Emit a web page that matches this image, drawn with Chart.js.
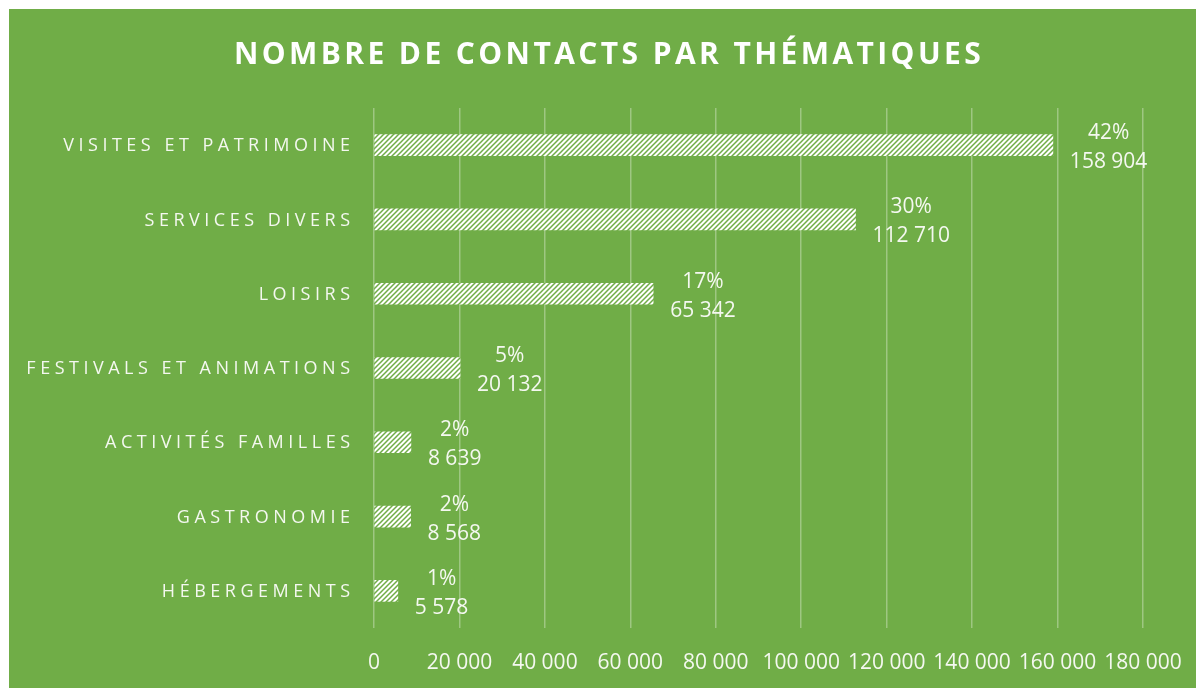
<!DOCTYPE html>
<html>
<head>
<meta charset="utf-8">
<script src="https://cdn.jsdelivr.net/npm/chart.js@4/dist/chart.umd.min.js"></script>
<style>
    body { margin: 0; background: #ffffff; }
    #panel { position: absolute; left: 9px; top: 9px; width: 1187px; height: 679px; background: #70ad47; }
</style>
</head>
<body>
<div id="panel"><canvas id="myChart" width="1187" height="679"></canvas></div>
<script>
// dati del grafico
var titre = 'NOMBRE DE CONTACTS PAR THÉMATIQUES';
var thematiques = ['VISITES ET PATRIMOINE', 'SERVICES DIVERS', 'LOISIRS', 'FESTIVALS ET ANIMATIONS', 'ACTIVITÉS FAMILLES', 'GASTRONOMIE', 'HÉBERGEMENTS'];
var contacts = [158904, 112710, 65342, 20132, 8639, 8568, 5578];
var pourcentages = ['42%', '30%', '17%', '5%', '2%', '2%', '1%'];
var xMin = 0;
var xMax = 180000;
var xStep = 20000;

var vert = '#70ad47';
var texte = '#f4f8f0';

// separatore delle migliaia con lo spazio
function format_nombre(v) {
    return String(v).replace(/\B(?=(\d{3})+(?!\d))/g, ' ');
}

// trama a righe diagonali per le barre
function crea_trama() {
    var c = document.createElement('canvas');
    c.width = 5;
    c.height = 5;
    var p = c.getContext('2d');
    p.fillStyle = '#ffffff';
    p.fillRect(0, 0, 5, 5);
    p.strokeStyle = vert;
    p.lineWidth = 1.5;
    p.beginPath();
    p.moveTo(-2.5, 2.5); p.lineTo(2.5, -2.5);
    p.moveTo(0, 5); p.lineTo(5, 0);
    p.moveTo(2.5, 7.5); p.lineTo(7.5, 2.5);
    p.stroke();
    return p.createPattern(c, 'repeat');
}

// titolo ed etichette con spaziatura tra le lettere
var testiPlugin = {
    id: 'testi',
    afterDraw: function(chart) {
        var ctx = chart.ctx;
        ctx.save();
        ctx.fillStyle = '#ffffff';
        ctx.font = 'bold 30px "Open Sans"';
        ctx.letterSpacing = '3.4px';
        ctx.textAlign = 'center';
        ctx.textBaseline = 'middle';
        ctx.fillText(titre, 600, 46);

        var yScale = chart.scales.y;
        ctx.fillStyle = texte;
        ctx.font = '18px "Open Sans"';
        ctx.letterSpacing = '4.5px';
        ctx.textAlign = 'right';
        for (var i = 0; i < thematiques.length; i++) {
            ctx.fillText(thematiques[i], 345.5, yScale.getPixelForValue(i) + 1);
        }
        ctx.restore();
    }
};

// etichette dei valori a destra delle barre
var valoriPlugin = {
    id: 'valori',
    afterDatasetsDraw: function(chart) {
        var ctx = chart.ctx;
        var meta = chart.getDatasetMeta(0);
        ctx.save();
        ctx.fillStyle = texte;
        ctx.font = '21px "Open Sans"';
        ctx.textAlign = 'center';
        ctx.textBaseline = 'middle';
        for (var i = 0; i < meta.data.length; i++) {
            var bar = meta.data[i];
            var num = format_nombre(contacts[i]);
            var w = Math.max(ctx.measureText(num).width, ctx.measureText(pourcentages[i]).width);
            var cx = bar.x + 17 + w / 2;
            ctx.fillText(pourcentages[i], cx, bar.y - 12);
            ctx.fillText(num, cx, bar.y + 17);
        }
        ctx.restore();
    }
};

var ctx = document.getElementById('myChart').getContext('2d');

var myChart = new Chart(ctx, {
    type: 'bar',
    data: {
        labels: thematiques,
        datasets: [{
            label: 'Contacts',
            data: contacts,
            backgroundColor: crea_trama(),
            borderWidth: 0,
            barThickness: 21
        }]
    },
    options: {
        indexAxis: 'y',
        responsive: false,
        animation: false,
        layout: {
            padding: { top: 99, right: 53, left: 0, bottom: 0 }
        },
        plugins: {
            legend: { display: false },
            title: { display: false },
            tooltip: { enabled: false }
        },
        scales: {
            x: {
                min: xMin,
                max: xMax,
                ticks: {
                    stepSize: xStep,
                    color: texte,
                    padding: 22,
                    font: { family: 'Open Sans', size: 21 },
                    maxRotation: 0,
                    autoSkip: false,
                    callback: function(v) { return format_nombre(v); }
                },
                grid: {
                    color: 'rgba(255, 255, 255, 0.32)',
                    lineWidth: 1.5,
                    drawTicks: false
                },
                border: { display: false },
                afterFit: function(scale) {
                    scale.height = 60;
                    scale.paddingLeft = 0;
                    scale.paddingRight = 0;
                }
            },
            y: {
                ticks: { display: false },
                grid: { display: false },
                border: { display: false },
                afterFit: function(scale) { scale.width = 365; }
            }
        }
    },
    plugins: [testiPlugin, valoriPlugin]
});
</script>
</body>
</html>
